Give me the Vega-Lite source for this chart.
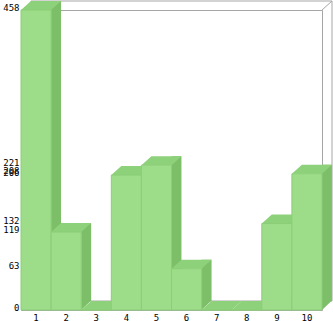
{
  "$schema": "https://vega.github.io/schema/vega-lite/v6.json",
  "width": 301,
  "height": 300,
  "padding": {"left": 21, "top": 10, "right": 11, "bottom": 11},
  "autosize": {"type": "none"},
  "background": "white",
  "config": {
    "view": {"stroke": null},
    "axis": {
      "labelFont": "DejaVu Sans Mono",
      "labelFontSize": 9,
      "labelColor": "#000000",
      "domainColor": "#a6a6a6",
      "domainWidth": 1,
      "grid": false,
      "ticks": false,
      "title": null,
      "zindex": 1
    }
  },
  "data": {
    "values": [
      {"cat": "1", "value": 458},
      {"cat": "2", "value": 119},
      {"cat": "3", "value": 0},
      {"cat": "4", "value": 206},
      {"cat": "5", "value": 221},
      {"cat": "6", "value": 63},
      {"cat": "7", "value": 0},
      {"cat": "8", "value": 0},
      {"cat": "9", "value": 132},
      {"cat": "10", "value": 208}
    ]
  },
  "resolve": {"axis": {"x": "independent", "y": "independent"}},
  "layer": [
    {
      "data": {"values": [{"part": "back"}]},
      "mark": {"type": "rect", "filled": false, "stroke": "#a6a6a6", "strokeWidth": 1, "xOffset": 10, "x2Offset": 10, "yOffset": -9, "y2Offset": -9},
      "encoding": {
        "x": {"datum": "1", "type": "nominal", "bandPosition": 0, "scale": {"domain": ["1","2","3","4","5","6","7","8","9","10"], "paddingInner": 0, "paddingOuter": 0}, "axis": null},
        "x2": {"datum": "10", "bandPosition": 1},
        "y": {"datum": 458, "type": "quantitative", "scale": {"domain": [0, 458], "nice": false}, "axis": null},
        "y2": {"datum": 0}
      }
    },
    {
      "data": {"values": [{"part": "corner"}]},
      "mark": {"type": "rule", "stroke": "#a6a6a6", "strokeWidth": 1, "x2Offset": 10, "y2Offset": -9},
      "encoding": {
        "x": {"datum": "10", "type": "nominal", "bandPosition": 1, "axis": null},
        "x2": {"datum": "10", "bandPosition": 1},
        "y": {"datum": 458, "type": "quantitative", "axis": null},
        "y2": {"datum": 458}
      }
    },
    {
      "mark": {"type": "bar", "fill": "#7dbf68", "width": 10, "xOffset": 20, "yOffset": -9, "y2Offset": -9},
      "encoding": {
        "x": {"field": "cat", "type": "nominal", "axis": null},
        "y": {"field": "value", "type": "quantitative", "axis": null}
      }
    },
    {
      "transform": [{"filter": "datum.value > 0"}],
      "mark": {"type": "point", "filled": true, "opacity": 1, "fill": "#7dbf68", "strokeWidth": 0, "size": 1600, "shape": "M0.7525,-0.475 L1.2525,-0.475 L0.7525,0 Z"},
      "encoding": {
        "x": {"field": "cat", "type": "nominal", "axis": null},
        "y": {"datum": 0, "type": "quantitative", "axis": null}
      }
    },
    {
      "mark": {"type": "point", "filled": true, "opacity": 1, "fill": "#8dd17a", "strokeWidth": 0, "size": 1600, "shape": "M-0.7525,0 L0.7525,0 L1.2525,-0.45 L-0.2525,-0.45 Z"},
      "encoding": {
        "x": {"field": "cat", "type": "nominal", "axis": {"orient": "top", "labels": false, "domain": true}},
        "y": {"field": "value", "type": "quantitative", "axis": {"orient": "right", "labels": false, "domain": true}}
      }
    },
    {
      "mark": {"type": "bar", "fill": "#9ddc88", "stroke": "#8ccd78", "strokeWidth": 1},
      "encoding": {
        "x": {"field": "cat", "type": "nominal", "axis": {"orient": "bottom", "labelAngle": 0, "labelPadding": 7, "labelBaseline": "middle", "domain": true}},
        "y": {"field": "value", "type": "quantitative", "axis": {"orient": "left", "values": [0, 63, 119, 132, 206, 208, 221, 458], "labelOverlap": false, "labelPadding": 2, "labelOffset": -3, "labelBaseline": "middle", "domain": true}}
      }
    }
  ]
}
